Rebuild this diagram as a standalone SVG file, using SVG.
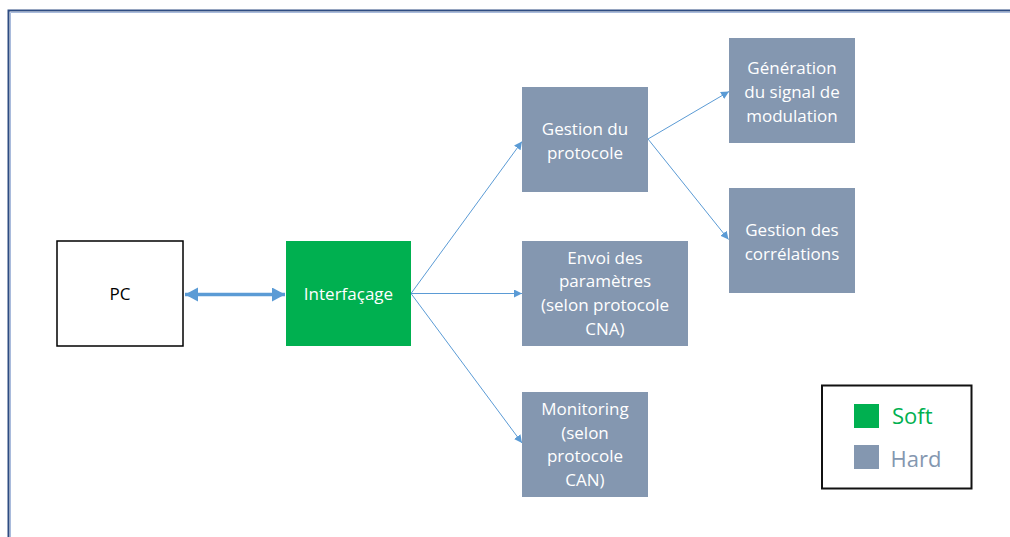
<svg xmlns="http://www.w3.org/2000/svg" width="1010" height="537" viewBox="0 0 1010 537">
<style>
.t{font-family:"Open Sans","Liberation Sans",sans-serif;font-size:17px;text-anchor:middle}
.w{fill:#ffffff}
.hard{fill:#8497b0}
.soft{fill:#00b050}
.ln{stroke:#5b9bd5;stroke-width:1;fill:none}
</style>
<defs>
<marker id="a" markerUnits="userSpaceOnUse" markerWidth="10" markerHeight="10" refX="8" refY="4" orient="auto">
<path d="M0,0 L8,4 L0,8 Z" fill="#5b9bd5"/>
</marker>
<marker id="big" markerUnits="userSpaceOnUse" markerWidth="14" markerHeight="16" refX="13" refY="7" orient="auto-start-reverse">
<path d="M0,0 L13,7 L0,14 Z" fill="#5b9bd5"/>
</marker>
</defs>
<rect width="1010" height="537" fill="#ffffff"/>
<g id="frame">
<path d="M8.5 537 V10.5 H1010" fill="none" stroke="#2e4c82" stroke-width="2"/>
<path d="M10.5 537 V12.5 H1010" fill="none" stroke="#a9bbdc" stroke-width="1"/>
</g>
<g id="connectors">
<line x1="185" y1="294.5" x2="285" y2="294.5" stroke="#5b9bd5" stroke-width="3.5" marker-start="url(#big)" marker-end="url(#big)"/>
<line class="ln" x1="411" y1="293.5" x2="522" y2="141.5" marker-end="url(#a)"/>
<line class="ln" x1="411" y1="293.5" x2="522" y2="293.5" marker-end="url(#a)"/>
<line class="ln" x1="411" y1="293.5" x2="522" y2="443" marker-end="url(#a)"/>
<line class="ln" x1="648" y1="139" x2="729" y2="91.5" marker-end="url(#a)"/>
<line class="ln" x1="648" y1="139" x2="728.5" y2="239.5" marker-end="url(#a)"/>
</g>
<g id="pc">
<rect x="57" y="241" width="126" height="105" fill="#ffffff" stroke="#000000" stroke-width="1.5"/>
<text class="t" x="120" y="300" fill="#000000">PC</text>
</g>
<g id="interfacage">
<rect x="286" y="241" width="125" height="105" class="soft"/>
<text class="t w" x="348.5" y="300">Interfaçage</text>
</g>
<g id="gestion-protocole">
<rect x="522" y="87" width="126" height="105" class="hard"/>
<text class="t w" x="585" y="135">Gestion du</text>
<text class="t w" x="585" y="159">protocole</text>
</g>
<g id="generation">
<rect x="729" y="38" width="126" height="105" class="hard"/>
<text class="t w" x="792" y="74">Génération</text>
<text class="t w" x="792" y="98">du signal de</text>
<text class="t w" x="792" y="122">modulation</text>
</g>
<g id="correlations">
<rect x="729" y="188" width="126" height="105" class="hard"/>
<text class="t w" x="792" y="236">Gestion des</text>
<text class="t w" x="792" y="260">corrélations</text>
</g>
<g id="envoi">
<rect x="522" y="241" width="166" height="105" class="hard"/>
<text class="t w" x="605" y="263.5">Envoi des</text>
<text class="t w" x="605" y="287">paramètres</text>
<text class="t w" x="605" y="311">(selon protocole</text>
<text class="t w" x="605" y="335">CNA)</text>
</g>
<g id="monitoring">
<rect x="522" y="392" width="126" height="105" class="hard"/>
<text class="t w" x="585" y="415">Monitoring</text>
<text class="t w" x="585" y="439">(selon</text>
<text class="t w" x="585" y="462">protocole</text>
<text class="t w" x="585" y="486">CAN)</text>
</g>
<g id="legend">
<rect x="822" y="385.5" width="149.5" height="103" fill="#ffffff" stroke="#111111" stroke-width="2"/>
<rect x="854" y="404" width="25" height="24" class="soft"/>
<text x="892" y="424" font-family="Open Sans, Liberation Sans, sans-serif" font-size="22" fill="#00b050">Soft</text>
<rect x="854" y="445" width="25" height="24" class="hard"/>
<text x="890.5" y="467" font-family="Open Sans, Liberation Sans, sans-serif" font-size="22" fill="#8497b0">Hard</text>
</g>
</svg>
